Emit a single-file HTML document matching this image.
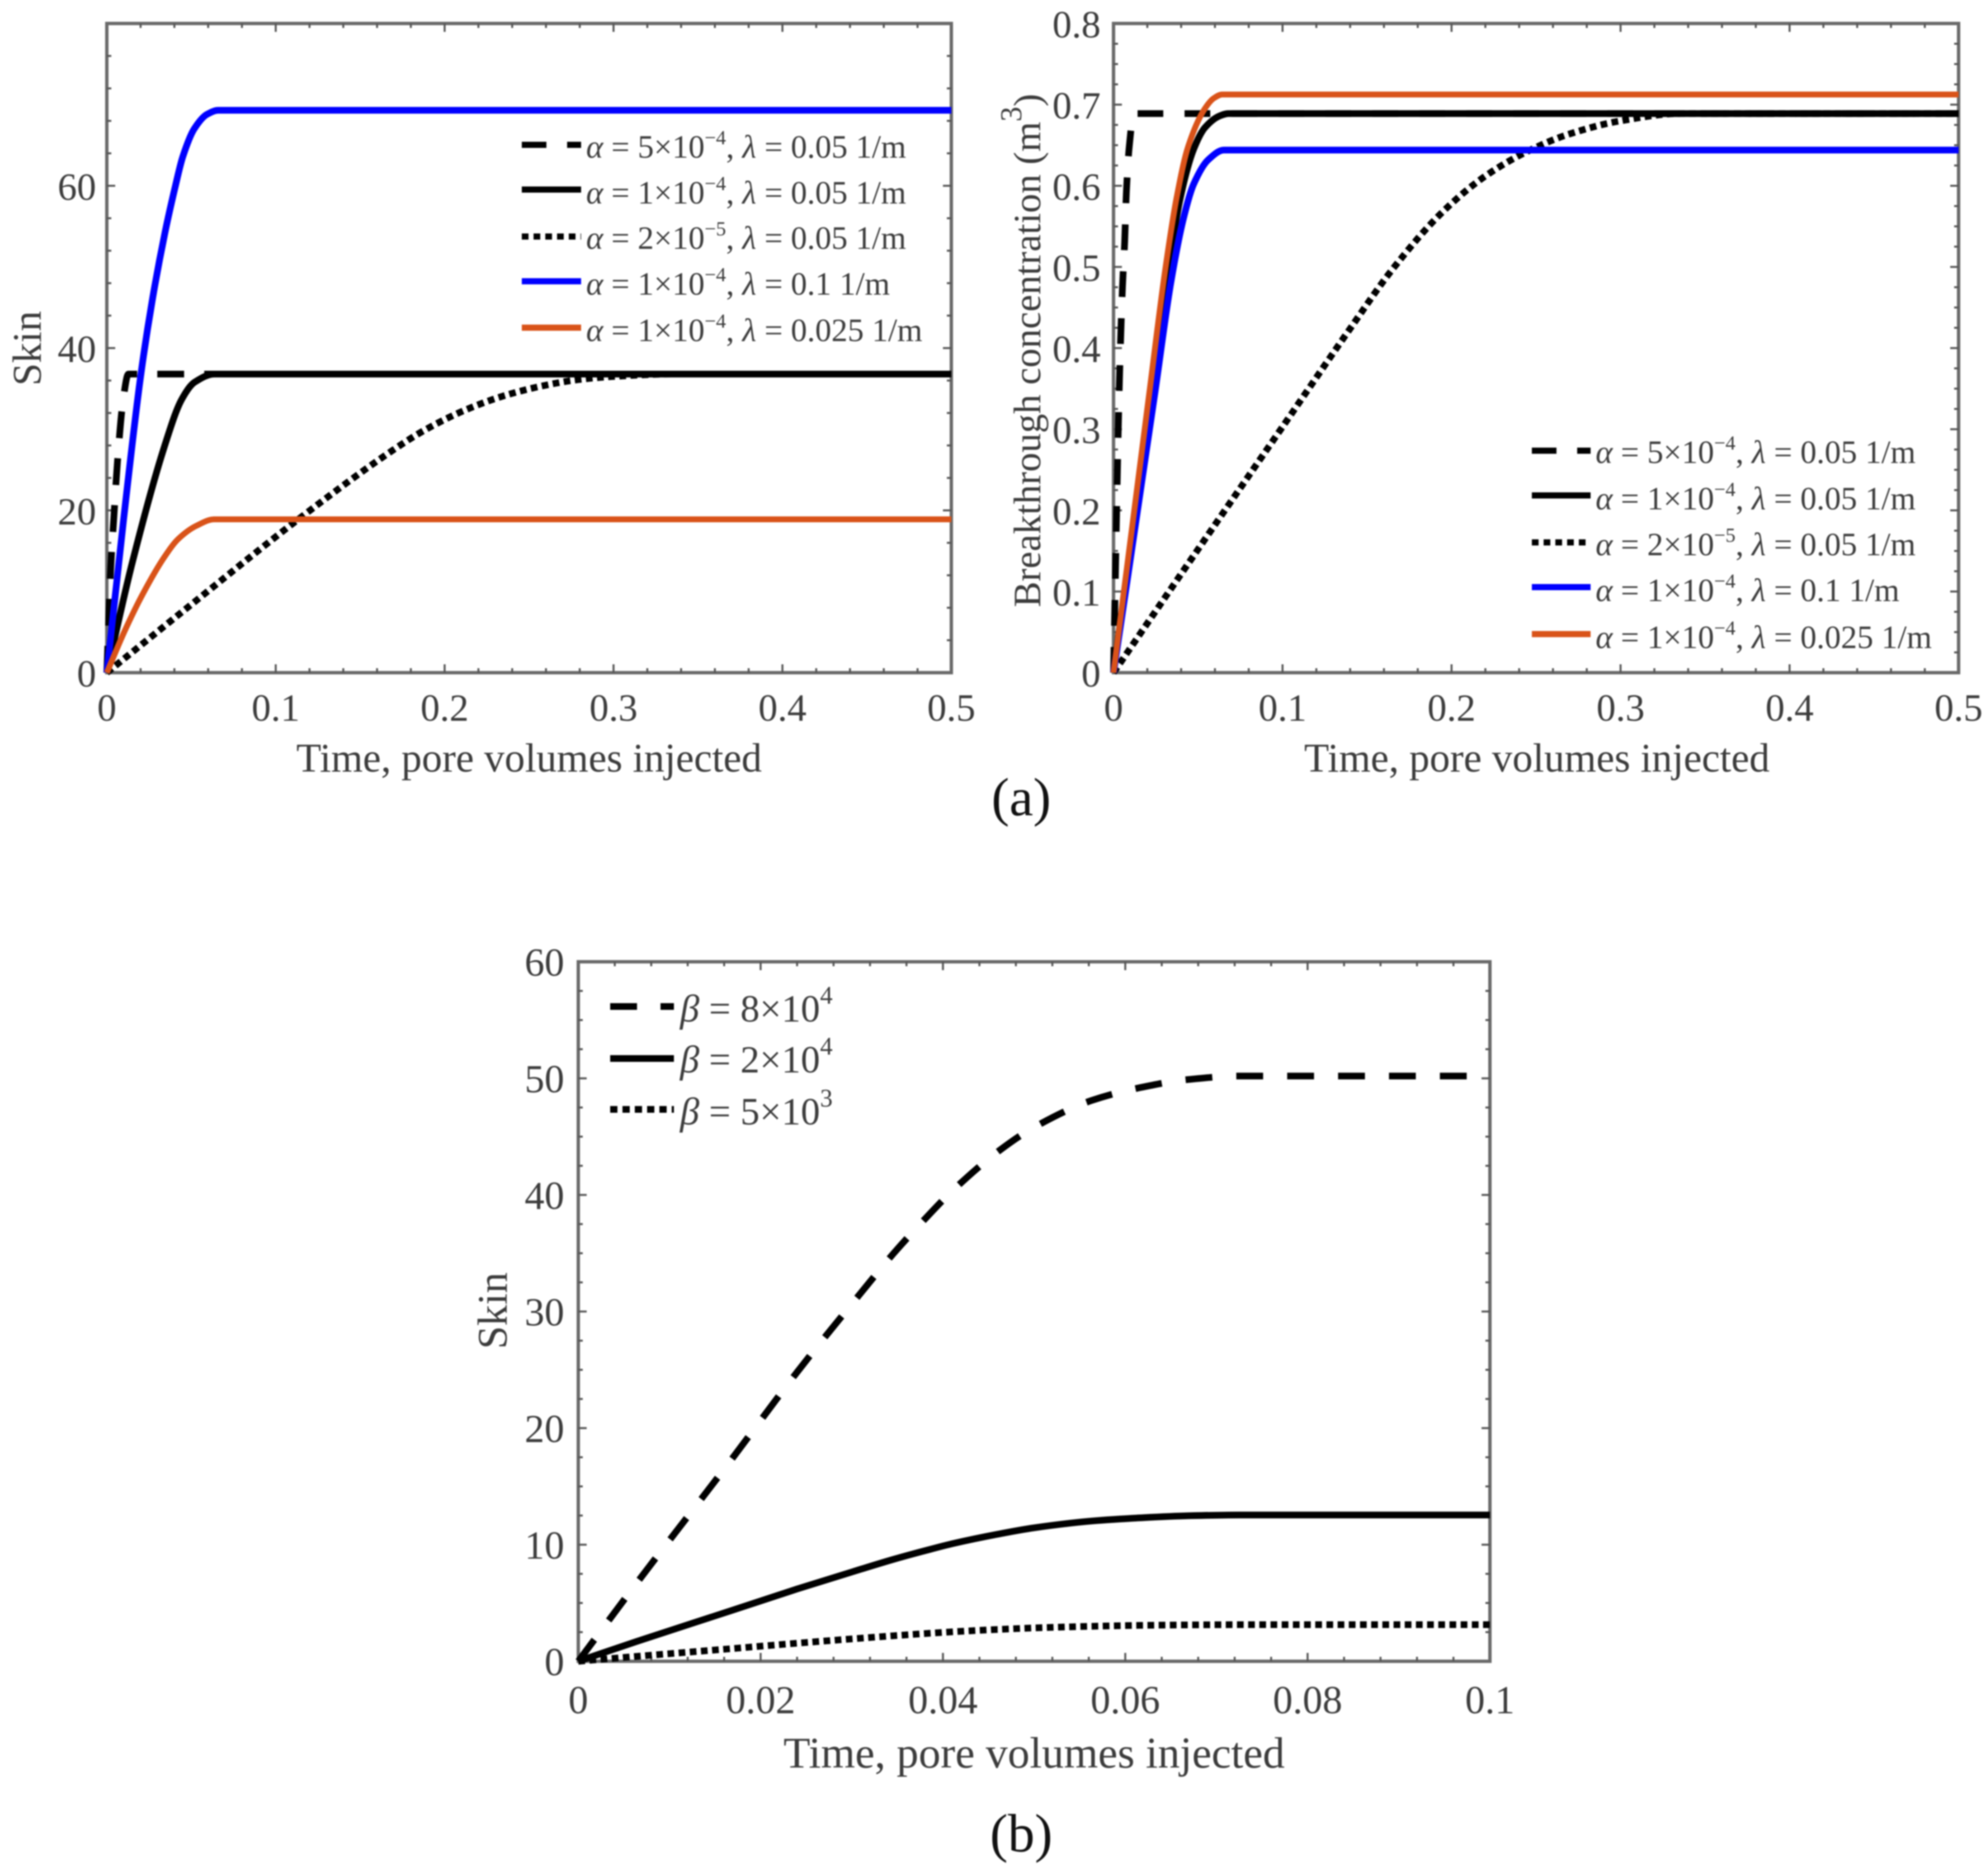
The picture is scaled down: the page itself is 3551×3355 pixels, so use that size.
<!DOCTYPE html>
<html lang="en">
<head>
<meta charset="utf-8">
<title>Skin and breakthrough concentration charts</title>
<style>
html,body{margin:0;padding:0;background:#fff;}
svg{display:block;filter:blur(1.2px);}
text{font-family:"Liberation Serif","Times New Roman",serif;fill:#3c3c3c;}
.leg{font-size:58px;}
.legb{font-size:69px;}
.title{font-size:73px;}
.tick{font-size:69px;}
</style>
</head>
<body>
<svg id="figure" xmlns="http://www.w3.org/2000/svg" width="3551" height="3355" viewBox="0 0 3551 3355">
<rect x="0" y="0" width="3551" height="3355" fill="#fff"/>

<g id="chart-a1"></g>
<g id="chart-a2"></g>
<g id="chart-b"></g>

<g>
<text class="title" x="946" y="1380" text-anchor="middle">Time, pore volumes injected</text>
<text class="title" transform="translate(73,623) rotate(-90)" text-anchor="middle">Skin</text>
</g>
<g>
<text class="title" x="2748" y="1380" text-anchor="middle">Time, pore volumes injected</text>
<text font-size="69.2" transform="translate(1860,1086) rotate(-90)">Breakthrough concentration (m<tspan font-size="54" dy="-34">3</tspan><tspan dy="34">)</tspan></text>
</g>
<g>
<text font-size="78.6" x="1849" y="3161" text-anchor="middle">Time, pore volumes injected</text>
<text font-size="75" transform="translate(906,2344) rotate(-90)" text-anchor="middle">Skin</text>
</g>

<g>
<line x1="933" x2="1039" y1="259" y2="259" stroke="#000" stroke-width="11" stroke-dasharray="44 37"/>
<text class="leg" x="1048" y="282"><tspan font-style="italic">α</tspan> = 5×10<tspan font-size="36" dy="-24">−4</tspan><tspan dy="24">, </tspan><tspan font-style="italic">λ</tspan> = 0.05 1/m</text>
<line x1="933" x2="1039" y1="339" y2="339" stroke="#000" stroke-width="11"/>
<text class="leg" x="1048" y="364"><tspan font-style="italic">α</tspan> = 1×10<tspan font-size="36" dy="-24">−4</tspan><tspan dy="24">, </tspan><tspan font-style="italic">λ</tspan> = 0.05 1/m</text>
<line x1="933" x2="1039" y1="423" y2="423" stroke="#000" stroke-width="11" stroke-dasharray="12 9"/>
<text class="leg" x="1048" y="445"><tspan font-style="italic">α</tspan> = 2×10<tspan font-size="36" dy="-24">−5</tspan><tspan dy="24">, </tspan><tspan font-style="italic">λ</tspan> = 0.05 1/m</text>
<line x1="933" x2="1039" y1="503" y2="503" stroke="#0000ff" stroke-width="11"/>
<text class="leg" x="1048" y="527"><tspan font-style="italic">α</tspan> = 1×10<tspan font-size="36" dy="-24">−4</tspan><tspan dy="24">, </tspan><tspan font-style="italic">λ</tspan> = 0.1 1/m</text>
<line x1="933" x2="1039" y1="586" y2="586" stroke="#d95319" stroke-width="11"/>
<text class="leg" x="1048" y="610"><tspan font-style="italic">α</tspan> = 1×10<tspan font-size="36" dy="-24">−4</tspan><tspan dy="24">, </tspan><tspan font-style="italic">λ</tspan> = 0.025 1/m</text>
</g>

<g>
<line x1="2739" x2="2844" y1="806" y2="806" stroke="#000" stroke-width="11" stroke-dasharray="44 37"/>
<text class="leg" x="2853" y="828"><tspan font-style="italic">α</tspan> = 5×10<tspan font-size="36" dy="-24">−4</tspan><tspan dy="24">, </tspan><tspan font-style="italic">λ</tspan> = 0.05 1/m</text>
<line x1="2739" x2="2844" y1="886" y2="886" stroke="#000" stroke-width="11"/>
<text class="leg" x="2853" y="911"><tspan font-style="italic">α</tspan> = 1×10<tspan font-size="36" dy="-24">−4</tspan><tspan dy="24">, </tspan><tspan font-style="italic">λ</tspan> = 0.05 1/m</text>
<line x1="2739" x2="2844" y1="970" y2="970" stroke="#000" stroke-width="11" stroke-dasharray="12 9"/>
<text class="leg" x="2853" y="993"><tspan font-style="italic">α</tspan> = 2×10<tspan font-size="36" dy="-24">−5</tspan><tspan dy="24">, </tspan><tspan font-style="italic">λ</tspan> = 0.05 1/m</text>
<line x1="2739" x2="2844" y1="1050" y2="1050" stroke="#0000ff" stroke-width="11"/>
<text class="leg" x="2853" y="1075"><tspan font-style="italic">α</tspan> = 1×10<tspan font-size="36" dy="-24">−4</tspan><tspan dy="24">, </tspan><tspan font-style="italic">λ</tspan> = 0.1 1/m</text>
<line x1="2739" x2="2844" y1="1134" y2="1134" stroke="#d95319" stroke-width="11"/>
<text class="leg" x="2853" y="1159"><tspan font-style="italic">α</tspan> = 1×10<tspan font-size="36" dy="-24">−4</tspan><tspan dy="24">, </tspan><tspan font-style="italic">λ</tspan> = 0.025 1/m</text>
</g>

<g>
<line x1="1091" x2="1205" y1="1800" y2="1800" stroke="#000" stroke-width="12" stroke-dasharray="48 42"/>
<text class="legb" x="1216" y="1827"><tspan font-style="italic">β</tspan> = 8×10<tspan font-size="45" dy="-32">4</tspan></text>
<line x1="1091" x2="1205" y1="1893" y2="1893" stroke="#000" stroke-width="12"/>
<text class="legb" x="1216" y="1918"><tspan font-style="italic">β</tspan> = 2×10<tspan font-size="45" dy="-32">4</tspan></text>
<line x1="1091" x2="1205" y1="1984" y2="1984" stroke="#000" stroke-width="12" stroke-dasharray="13 9"/>
<text class="legb" x="1216" y="2011"><tspan font-style="italic">β</tspan> = 5×10<tspan font-size="45" dy="-32">3</tspan></text>
</g>

<text x="1826" y="1458" font-size="96" text-anchor="middle" style="fill:#111">(a)</text>
<text x="1826" y="3311" font-size="96" text-anchor="middle" style="fill:#111">(b)</text>
</svg>

<script>
// ---- Panel (a), left: Skin ----
const a1XTicks = [0, 0.1, 0.2, 0.3, 0.4, 0.5];
const a1XLabels = ['0', '0.1', '0.2', '0.3', '0.4', '0.5'];
const a1YTicks = [0, 20, 40, 60, 80];
const a1YLabels = ['0', '20', '40', '60', ''];

const a1DashedX = [0, 0.0023, 0.004, 0.0063, 0.0096, 0.0128, 0.5];
const a1DashedY = [0, 12.9, 18.6, 26, 33.5, 36.8, 36.8];
const a1SolidX = [0, 0.015, 0.034, 0.0444, 0.052, 0.0636, 0.5];
const a1SolidY = [0, 13.5, 27.8, 33.7, 35.8, 36.8, 36.8];
const a1DottedX = [0, 0.05, 0.114, 0.1685, 0.1891, 0.2126, 0.2348, 0.257, 0.2788, 0.3, 0.335, 0.5];
const a1DottedY = [0, 8.4, 19, 27.3, 30, 32.4, 34.1, 35.3, 36.1, 36.5, 36.8, 36.8];
const a1BlueX = [0, 0.01, 0.02, 0.027, 0.0344, 0.0404, 0.045, 0.0517, 0.0593, 0.066, 0.5];
const a1BlueY = [0, 19, 36.5, 46, 54.2, 59.8, 63.6, 67, 68.8, 69.3, 69.3];
const a1OrangeX = [0, 0.0107, 0.0213, 0.0339, 0.0424, 0.053, 0.0636, 0.5];
const a1OrangeY = [0, 5.2, 9.7, 14.2, 16.5, 18.1, 18.9, 18.9];

// ---- Panel (a), right: Breakthrough concentration ----
const a2XTicks = [0, 0.1, 0.2, 0.3, 0.4, 0.5];
const a2XLabels = ['0', '0.1', '0.2', '0.3', '0.4', '0.5'];
const a2YTicks = [0, 0.1, 0.2, 0.3, 0.4, 0.5, 0.6, 0.7, 0.8];
const a2YLabels = ['0', '0.1', '0.2', '0.3', '0.4', '0.5', '0.6', '0.7', '0.8'];

const a2DashedX = [0, 0.0035, 0.0053, 0.0066, 0.0076, 0.0093, 0.012, 0.5];
const a2DashedY = [0, 0.36, 0.4755, 0.531, 0.592, 0.648, 0.689, 0.689];
const a2SolidX = [0, 0.0225, 0.032, 0.0395, 0.0474, 0.0542, 0.0627, 0.068, 0.5];
const a2SolidY = [0, 0.3466, 0.49, 0.585, 0.645, 0.672, 0.686, 0.689, 0.689];
const a2DottedX = [0, 0.05, 0.1, 0.14, 0.165, 0.1943, 0.22, 0.2455, 0.27, 0.3, 0.335, 0.5];
const a2DottedY = [0, 0.152, 0.303, 0.424, 0.497, 0.567, 0.612, 0.643, 0.664, 0.68, 0.689, 0.689];
const a2BlueX = [0, 0.0246, 0.0339, 0.0414, 0.0474, 0.056, 0.0653, 0.5];
const a2BlueY = [0, 0.3466, 0.4807, 0.56, 0.602, 0.632, 0.644, 0.644];
const a2OrangeX = [0, 0.0212, 0.0305, 0.0373, 0.0441, 0.0534, 0.0594, 0.0643, 0.5];
const a2OrangeY = [0, 0.345, 0.495, 0.585, 0.648, 0.693, 0.708, 0.7125, 0.7125];

// ---- Panel (b): Skin vs beta ----
const bXTicks = [0, 0.02, 0.04, 0.06, 0.08, 0.1];
const bXLabels = ['0', '0.02', '0.04', '0.06', '0.08', '0.1'];
const bYTicks = [0, 10, 20, 30, 40, 50, 60];
const bYLabels = ['0', '10', '20', '30', '40', '50', '60'];

const bDashedX = [0, 0.0064, 0.0166, 0.024, 0.031, 0.0346, 0.0381, 0.0411, 0.046, 0.05, 0.0563, 0.0616, 0.0669, 0.0725, 0.1];
const bDashedY = [0, 6.7, 17.1, 24.8, 31.6, 35, 38, 40.4, 43.7, 45.8, 48.1, 49.2, 49.9, 50.2, 50.2];
const bSolidX = [0, 0.0064, 0.0166, 0.024, 0.031, 0.0346, 0.0381, 0.0411, 0.046, 0.05, 0.0563, 0.0616, 0.0669, 0.0725, 0.1];
const bSolidY = [0, 1.7, 4.3, 6.2, 7.9, 8.75, 9.5, 10.1, 10.9, 11.45, 12.03, 12.3, 12.48, 12.55, 12.55];
const bDottedX = [0, 0.0064, 0.0166, 0.024, 0.031, 0.0346, 0.0381, 0.0411, 0.046, 0.05, 0.0563, 0.0616, 0.0669, 0.0725, 0.1];
const bDottedY = [0, 0.42, 1.07, 1.55, 1.98, 2.19, 2.38, 2.53, 2.73, 2.86, 3.0, 3.08, 3.12, 3.14, 3.14];

const SVG_NS = 'http://www.w3.org/2000/svg';

function make(tag, attrs, parent) {
  const node = document.createElementNS(SVG_NS, tag);
  for (const k in attrs) node.setAttribute(k, attrs[k]);
  parent.appendChild(node);
  return node;
}

function linearScale(d0, d1, r0, r1) {
  return function (v) { return r0 + (v - d0) / (d1 - d0) * (r1 - r0); };
}

// Monotone cubic path through the data points
function curvePath(xs, ys, sx, sy) {
  const n = xs.length;
  const px = xs.map(sx);
  const py = ys.map(sy);
  const slope = [];
  for (let i = 0; i < n - 1; i++) slope.push((py[i + 1] - py[i]) / (px[i + 1] - px[i]));
  const m = [slope[0]];
  for (let i = 1; i < n - 1; i++) {
    m.push(slope[i - 1] * slope[i] <= 0 ? 0 : 2 * slope[i - 1] * slope[i] / (slope[i - 1] + slope[i]));
  }
  m.push(slope[n - 2]);
  let d = 'M' + px[0].toFixed(2) + ' ' + py[0].toFixed(2);
  for (let i = 0; i < n - 1; i++) {
    const h = (px[i + 1] - px[i]) / 3;
    d += 'C' + (px[i] + h).toFixed(2) + ' ' + (py[i] + m[i] * h).toFixed(2) + ' ' +
         (px[i + 1] - h).toFixed(2) + ' ' + (py[i + 1] - m[i + 1] * h).toFixed(2) + ' ' +
         px[i + 1].toFixed(2) + ' ' + py[i + 1].toFixed(2);
  }
  return d;
}

function drawAxes(root, prefix, box, sx, sy, cfg) {
  const frame = make('rect', {x: box.left, y: box.top, width: box.right - box.left, height: box.bottom - box.top, fill: 'none', stroke: '#6a6a6a', 'stroke-width': 6}, root);
  
  

  const xMin = cfg.xTicks[0];
  const xMax = cfg.xTicks[cfg.xTicks.length - 1];
  const yMin = cfg.yTicks[0];
  const yMax = cfg.yTicks[cfg.yTicks.length - 1];
  const xStepCount = (cfg.xTicks.length - 1) * cfg.xDiv;
  const yStepCount = (cfg.yTicks.length - 1) * cfg.yDiv;

  for (let i = 1; i < xStepCount; i++) {
    const len = i % cfg.xDiv === 0 ? 15 : 8;
    const x = sx(xMin + (xMax - xMin) * i / xStepCount);
    const low = make('line', {x1: x, x2: x, y1: box.bottom, y2: box.bottom - len, stroke: '#555', 'stroke-width': 3.5}, root);
    
    
    const high = make('line', {x1: x, x2: x, y1: box.top, y2: box.top + len, stroke: '#555', 'stroke-width': 3.5}, root);
    
    
  }
  for (let i = 1; i < yStepCount; i++) {
    const len = i % cfg.yDiv === 0 ? 15 : 8;
    const y = sy(yMin + (yMax - yMin) * i / yStepCount);
    const lft = make('line', {x1: box.left, x2: box.left + len, y1: y, y2: y, stroke: '#555', 'stroke-width': 3.5}, root);
    
    
    const rgt = make('line', {x1: box.right, x2: box.right - len, y1: y, y2: y, stroke: '#555', 'stroke-width': 3.5}, root);
    
    
  }

  cfg.xTicks.forEach(function (v, i) {
    const t = make('text', {x: sx(v), y: cfg.xLabelY, 'text-anchor': 'middle', 'font-size': cfg.tickFont}, root);
    t.textContent = cfg.xLabels[i];
    
    
  });
  cfg.yTicks.forEach(function (v, i) {
    if (!cfg.yLabels[i]) return;
    const t = make('text', {x: cfg.yLabelX, y: sy(v) + 25, 'text-anchor': 'end', 'font-size': cfg.tickFont}, root);
    t.textContent = cfg.yLabels[i];
    
    
  });
}

function drawSeries(root, name, xs, ys, sx, sy, color, dash, width) {
  const p = make('path', {d: curvePath(xs, ys, sx, sy), fill: 'none', stroke: color, 'stroke-width': width, 'stroke-linejoin': 'round'}, root);
  if (dash) p.setAttribute('stroke-dasharray', dash);
  
  
}

// Panel (a), left
(function () {
  const root = document.getElementById('chart-a1');
  const box = {left: 191, right: 1701, top: 42, bottom: 1203};
  const sx = linearScale(a1XTicks[0], a1XTicks[a1XTicks.length - 1], box.left, box.right);
  const sy = linearScale(a1YTicks[0], a1YTicks[a1YTicks.length - 1], box.bottom, box.top);
  drawAxes(root, 'a1', box, sx, sy, {xTicks: a1XTicks, xLabels: a1XLabels, yTicks: a1YTicks, yLabels: a1YLabels, xDiv: 5, yDiv: 5, xLabelY: 1289, yLabelX: 172, tickFont: 69});
  drawSeries(root, 'series-a1-dashed', a1DashedX, a1DashedY, sx, sy, '#000', '48 36', 12);
  drawSeries(root, 'series-a1-solid', a1SolidX, a1SolidY, sx, sy, '#000', null, 12);
  drawSeries(root, 'series-a1-dotted', a1DottedX, a1DottedY, sx, sy, '#000', '12 8', 12);
  drawSeries(root, 'series-a1-blue', a1BlueX, a1BlueY, sx, sy, '#0000ff', null, 12);
  drawSeries(root, 'series-a1-orange', a1OrangeX, a1OrangeY, sx, sy, '#d95319', null, 10.5);
})();

// Panel (a), right
(function () {
  const root = document.getElementById('chart-a2');
  const box = {left: 1991, right: 3502, top: 42, bottom: 1203};
  const sx = linearScale(a2XTicks[0], a2XTicks[a2XTicks.length - 1], box.left, box.right);
  const sy = linearScale(a2YTicks[0], a2YTicks[a2YTicks.length - 1], box.bottom, box.top);
  drawAxes(root, 'a2', box, sx, sy, {xTicks: a2XTicks, xLabels: a2XLabels, yTicks: a2YTicks, yLabels: a2YLabels, xDiv: 5, yDiv: 4, xLabelY: 1289, yLabelX: 1968, tickFont: 69});
  drawSeries(root, 'series-a2-dashed', a2DashedX, a2DashedY, sx, sy, '#000', '46 38', 12);
  drawSeries(root, 'series-a2-solid', a2SolidX, a2SolidY, sx, sy, '#000', null, 12);
  drawSeries(root, 'series-a2-dotted', a2DottedX, a2DottedY, sx, sy, '#000', '12 8', 12);
  drawSeries(root, 'series-a2-blue', a2BlueX, a2BlueY, sx, sy, '#0000ff', null, 12);
  drawSeries(root, 'series-a2-orange', a2OrangeX, a2OrangeY, sx, sy, '#d95319', null, 10.5);
})();

// Panel (b)
(function () {
  const root = document.getElementById('chart-b');
  const box = {left: 1034, right: 2664, top: 1720, bottom: 2971};
  const sx = linearScale(bXTicks[0], bXTicks[bXTicks.length - 1], box.left, box.right);
  const sy = linearScale(bYTicks[0], bYTicks[bYTicks.length - 1], box.bottom, box.top);
  drawAxes(root, 'b', box, sx, sy, {xTicks: bXTicks, xLabels: bXLabels, yTicks: bYTicks, yLabels: bYLabels, xDiv: 5, yDiv: 4, xLabelY: 3064, yLabelX: 1009, tickFont: 71});
  drawSeries(root, 'series-b-dashed', bDashedX, bDashedY, sx, sy, '#000', '48 43', 12);
  drawSeries(root, 'series-b-solid', bSolidX, bSolidY, sx, sy, '#000', null, 12);
  drawSeries(root, 'series-b-dotted', bDottedX, bDottedY, sx, sy, '#000', '12 8', 12);
})();
</script>
</body>
</html>
